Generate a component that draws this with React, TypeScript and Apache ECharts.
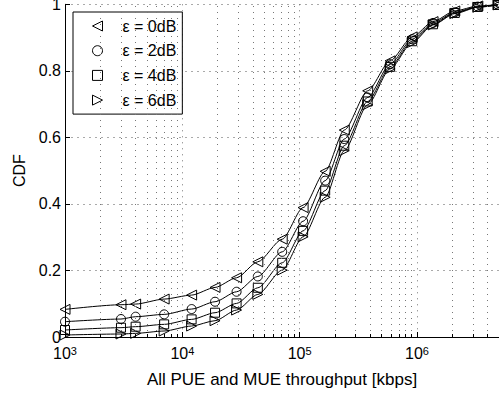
import React, { useEffect, useRef } from "react";
import * as echarts from "echarts";

const throughput = [1e3, 3e3, 4e3, 7e3, 1.2e4, 1.9e4, 2.9e4, 4.4e4, 7.1e4, 1.07e5, 1.65e5, 2.4e5, 3.8e5, 5.9e5, 9.1e5, 1.37e6, 2.1e6, 3.3e6, 4.9e6];
const cdfEps0 = [0.083, 0.097, 0.099, 0.114, 0.126, 0.149, 0.178, 0.226, 0.294, 0.389, 0.498, 0.622, 0.740, 0.830, 0.902, 0.948, 0.980, 0.995, 0.999];
const cdfEps2 = [0.046, 0.054, 0.061, 0.068, 0.084, 0.106, 0.136, 0.182, 0.256, 0.348, 0.470, 0.595, 0.720, 0.820, 0.895, 0.944, 0.976, 0.993, 0.999];
const cdfEps4 = [0.021, 0.028, 0.031, 0.038, 0.053, 0.073, 0.101, 0.148, 0.223, 0.319, 0.440, 0.575, 0.708, 0.812, 0.889, 0.940, 0.974, 0.992, 0.998];
const cdfEps6 = [0.006, 0.009, 0.011, 0.018, 0.033, 0.049, 0.081, 0.128, 0.201, 0.301, 0.420, 0.560, 0.698, 0.806, 0.885, 0.938, 0.972, 0.991, 0.998];
const seriesNames = ["ε = 0dB", "ε = 2dB", "ε = 4dB", "ε = 6dB"];
const decades = [3, 4, 5, 6];
const minorMultipliers = [2, 3, 4, 5, 6, 7, 8, 9];
const X_MIN = 1e3;
const X_MAX = 5e6;

const FONT = "'Liberation Sans', Arial, Helvetica, sans-serif";

export default function App() {
  const ref = useRef<HTMLDivElement>(null);
  useEffect(() => {
    if (!ref.current) return;
    const chart = echarts.init(ref.current, undefined, { renderer: "svg" });
    const minorValues: number[] = [];
    decades.forEach((d) =>
      minorMultipliers.forEach((m) => {
        const v = m * Math.pow(10, d);
        if (v < X_MAX) minorValues.push(v);
      })
    );
    const allSeries = [cdfEps0, cdfEps2, cdfEps4, cdfEps6];
    const symbols = ["triangle", "circle", "rect", "triangle"];
    const rotations = [90, 0, 0, -90];
    const sizes = [10, 9, 9, 10];
    const legendIcons = [
      "path://M10,0 L0,5 L10,10 Z",
      "circle",
      "rect",
      "path://M0,0 L10,5 L0,10 Z",
    ];
    const isDecade = (v: number) => Math.abs(Math.log10(v) - Math.round(Math.log10(v))) < 1e-6;
    const option: any = {
      animation: false,
      backgroundColor: "#fff",
      textStyle: { fontFamily: FONT, color: "#000" },
      grid: { left: 65, top: 4.3, bottom: 61, right: 0, containLabel: false, outerBoundsMode: "none" },
      legend: {
        orient: "vertical",
        left: 73,
        top: 12,
        backgroundColor: "#fff",
        borderColor: "#000",
        borderWidth: 1,
        borderRadius: 0,
        padding: [6, 6, 6, 19],
        itemWidth: 10,
        itemHeight: 10,
        itemGap: 8.7,
        data: seriesNames.map((n, i) => ({ name: n, icon: legendIcons[i] })),
        textStyle: { fontFamily: FONT, fontSize: 16, color: "#000", lineHeight: 16, padding: [0, 0, 0, 15] },
        itemStyle: { color: "rgba(0,0,0,0)", borderColor: "#000", borderWidth: 1 },
      },
      xAxis: {
        type: "log",
        logBase: 10,
        min: X_MIN,
        max: X_MAX,
        name: "All PUE and MUE throughput [kbps]",
        nameLocation: "middle",
        nameGap: 34,
        nameTextStyle: { fontFamily: FONT, fontSize: 17, color: "#000" },
        axisLine: { lineStyle: { color: "#000", width: 1 } },
        axisTick: { inside: true, length: 5, lineStyle: { color: "#000" } },
        axisLabel: {
          margin: 8,
          showMaxLabel: false,
          formatter: (v: number) => (isDecade(v) ? `{b|10}{s|${Math.round(Math.log10(v))}}` : ""),
          rich: {
            b: { fontFamily: FONT, fontSize: 16, lineHeight: 16, verticalAlign: "bottom", color: "#000" },
            s: { fontFamily: FONT, fontSize: 11, lineHeight: 11, verticalAlign: "top", padding: [0, 0, 10, 0], color: "#000" },
          },
        },
        splitLine: { show: true, lineStyle: { color: "#777", type: [1, 5], width: 1 } },
      },
      yAxis: {
        type: "value",
        min: 0,
        max: 1,
        interval: 0.2,
        name: "CDF",
        nameLocation: "middle",
        nameGap: 37,
        nameTextStyle: { fontFamily: FONT, fontSize: 16, color: "#000" },
        axisLine: { show: true, lineStyle: { color: "#000", width: 1 } },
        axisTick: { show: true, inside: true, length: 5, lineStyle: { color: "#000" } },
        axisLabel: { margin: 4, fontFamily: FONT, fontSize: 16, color: "#000" },
        splitLine: { show: true, lineStyle: { color: "#aaa", type: [2, 4], width: 1 } },
      },
      series: [
        {
          type: "line",
          name: "__grid",
          data: [],
          silent: true,
          z: 1,
          markLine: {
            silent: true,
            symbol: "none",
            label: { show: false },
            animation: false,
            data: [
              ...minorValues.map((v) => ({ xAxis: v, lineStyle: { color: "#777", type: [1, 5], width: 1 } })),
              ...minorValues.map((v) => [
                { coord: [v, 0], lineStyle: { color: "#000", type: "solid", width: 1 } },
                { coord: [v, 0.009] },
              ]),
            ],
          },
        },
        ...allSeries.map((vals, i) => ({
          type: "line",
          name: seriesNames[i],
          z: 3,
          data: throughput.map((x, j) => [x, vals[j]]),
          smooth: 0.25,
          smoothMonotone: "x",
          symbol: symbols[i],
          symbolRotate: rotations[i],
          symbolSize: sizes[i],
          showAllSymbol: true,
          clip: false,
          lineStyle: { color: "#000", width: 1 },
          itemStyle: { color: "rgba(0,0,0,0)", borderColor: "#000", borderWidth: 1 },
        })),
      ],
    };
    chart.setOption(option);
    return () => chart.dispose();
  }, []);
  return <div ref={ref} style={{ width: 499, height: 398, position: "absolute", left: 0, top: 0 }} />;
}
